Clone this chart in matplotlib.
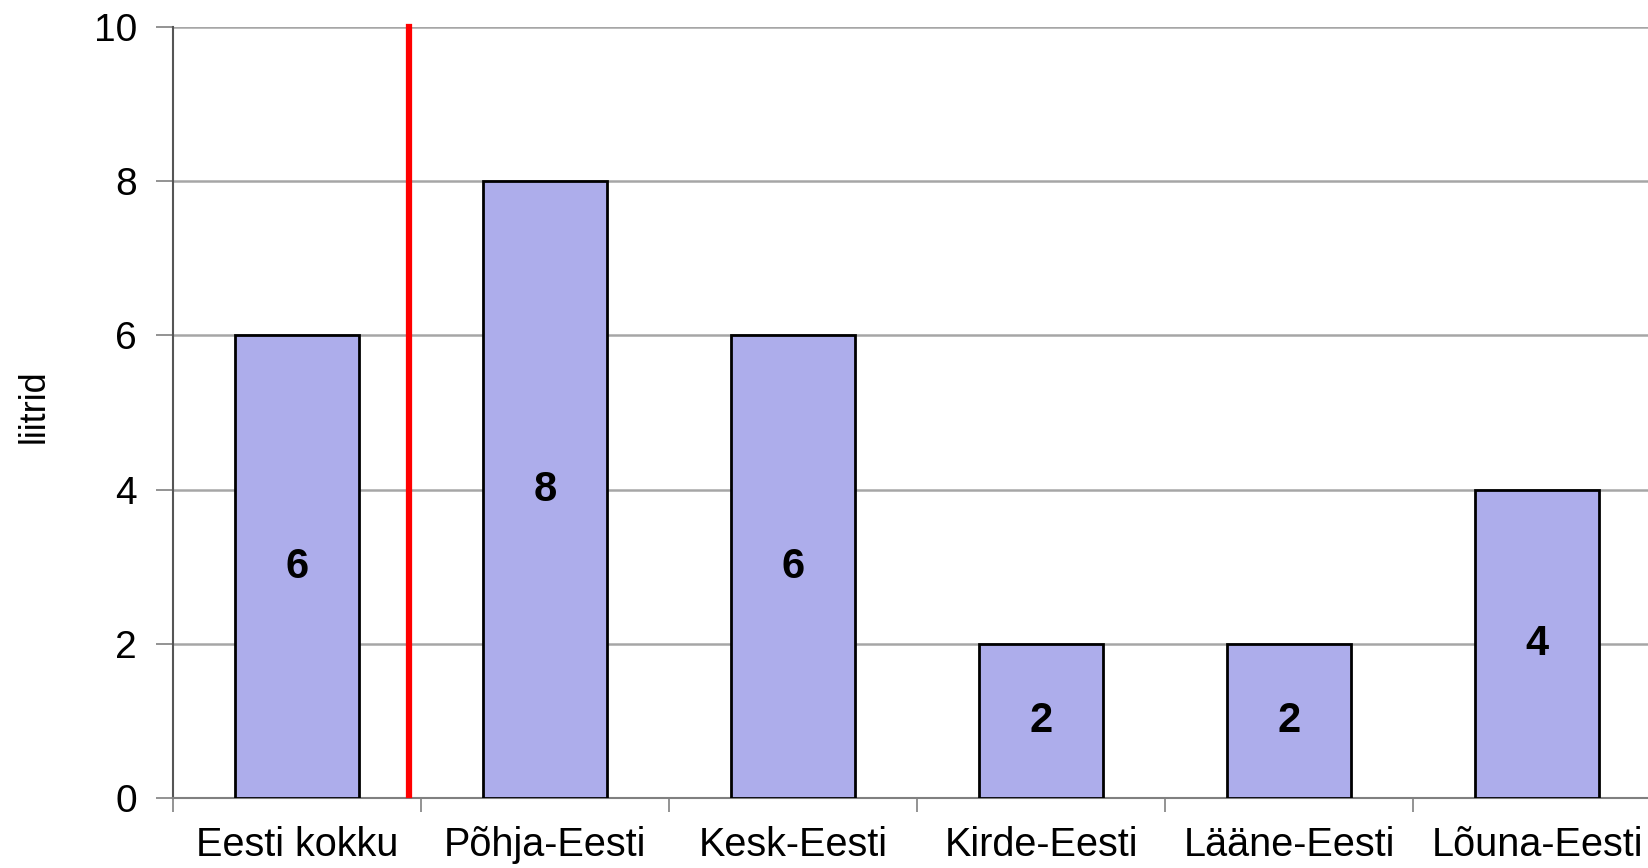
import matplotlib
matplotlib.use("Agg")
import matplotlib.pyplot as plt
import numpy as np

plt.rcParams['font.family'] = ['Liberation Sans', 'DejaVu Sans']

regions = ["Eesti kokku", "Põhja-Eesti", "Kesk-Eesti", "Kirde-Eesti", "Lääne-Eesti", "Lõuna-Eesti"]
liters = [6, 8, 6, 2, 2, 4]
yticks = [0, 2, 4, 6, 8, 10]

fig = plt.figure(figsize=(16.48, 8.68), dpi=100)
W, H = 1648, 868
ax = fig.add_axes([173 / W, 1 - 798 / H, 1488 / W, 771 / H])

x = np.arange(len(regions)) + 0.5
ax.bar(x, liters, width=0.5, color='#ADADEB', edgecolor='black', linewidth=2, zorder=3)
for xi, v in zip(x, liters):
    ax.text(xi, v / 2, str(v), ha='center', va='center', fontsize=30, fontweight='bold', zorder=4)

# separator between total and regions
ax.plot([0.95, 0.95], [0.04, 10.0], color='#FF0000', linewidth=4.5, clip_on=False, zorder=5)

ax.set_xlim(0, len(regions))
ax.set_ylim(0, 10)
ax.set_yticks(yticks)
ax.set_yticklabels([str(t) for t in yticks], fontsize=28)
ax.set_xticks(np.arange(len(regions) + 1))
ax.set_xticklabels([])
ax.set_xticks(x, minor=True)
ax.set_xticklabels(regions, minor=True, fontsize=28.5)
ax.tick_params(axis='x', which='minor', length=0, pad=20)
ax.tick_params(axis='x', which='major', length=10, width=1.2, color='#808080')
ax.tick_params(axis='y', length=12, width=1.2, color='#808080', pad=14)

ax.yaxis.grid(True, color='#A6A6A6', linewidth=1.8, zorder=0)
ax.set_axisbelow(True)
for s in ['top', 'right']:
    ax.spines[s].set_visible(False)
ax.spines['left'].set_color('#555555')
ax.spines['left'].set_linewidth(1.5)
ax.spines['bottom'].set_color('#808080')
ax.spines['bottom'].set_linewidth(1.5)

ax.set_ylabel("liitrid", fontsize=26)
ax.yaxis.set_label_coords((52 - 173) / 1488, (798 - 406) / 771)

fig.savefig("out.png", dpi=100)
